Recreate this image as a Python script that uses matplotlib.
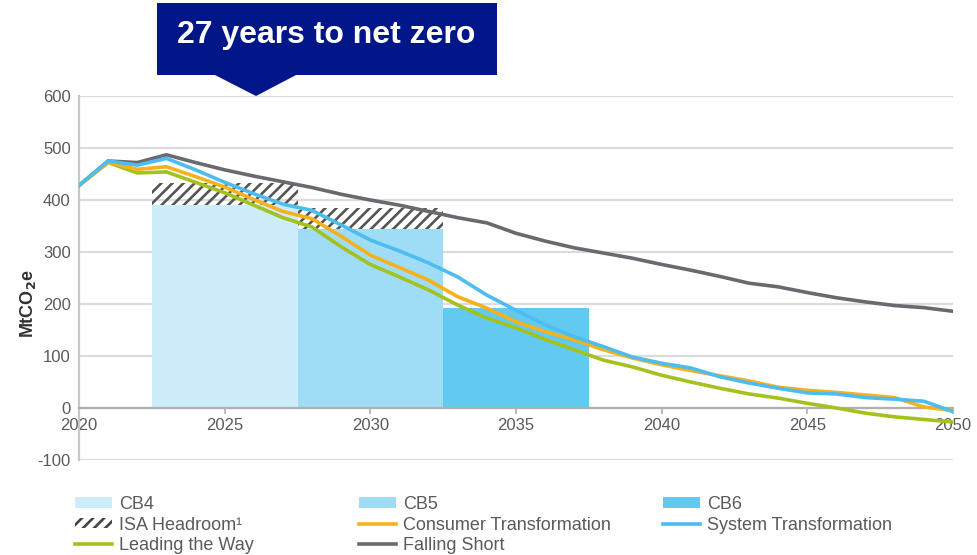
import numpy as np
import matplotlib
matplotlib.use("Agg")
import matplotlib.pyplot as plt
from matplotlib.patches import Patch, Rectangle, Polygon
from matplotlib.lines import Line2D

plt.rcParams['font.family'] = ['Liberation Sans', 'DejaVu Sans']
plt.rcParams['hatch.linewidth'] = 1.9
plt.rcParams['axes.unicode_minus'] = False

# --- data -------------------------------------------------------------
years = list(range(2020, 2051))

falling_short = [428, 475, 472, 487, 472, 458, 446, 435, 424, 411, 400, 390, 378, 366,
                 356, 336, 321, 308, 298, 288, 276, 265, 253, 240, 233, 222, 212, 204,
                 197, 193, 186]
system_transformation = [428, 475, 467, 480, 458, 434, 412, 392, 380, 352, 323, 302, 279,
                         252, 217, 188, 160, 137, 118, 98, 86, 77, 60, 48, 38, 29, 27, 20,
                         17, 13, -7]
consumer_transformation = [428, 472, 459, 464, 445, 425, 401, 378, 364, 330, 294, 270, 246,
                           214, 192, 166, 147, 131, 112, 96, 83, 72, 62, 52, 40, 34, 30, 25,
                           20, 2, -5]
leading_the_way = [428, 472, 452, 454, 434, 414, 390, 366, 348, 310, 276, 252, 227, 198,
                   173, 154, 132, 112, 92, 79, 63, 50, 38, 27, 19, 9, 0, -10, -17, -22, -27]

budget_names = ["CB4", "CB5", "CB6"]
budget_start = [2022.5, 2027.5, 2032.5]
budget_width = 5
budget_level = [390, 345, 193]          # annual average, MtCO2e
isa_headroom = [43, 39, 0]              # hatched part above the budget

y_ticks = [-100, 0, 100, 200, 300, 400, 500, 600]
x_ticks = [2020, 2025, 2030, 2035, 2040, 2045, 2050]

# --- style ------------------------------------------------------------
budget_colors = ["#cdedfa", "#9fdcf6", "#62c9f1"]
c_falling = "#6b6870"
c_system = "#4cbdee"
c_consumer = "#f6b21c"
c_leading = "#a3c21f"
c_text = "#5a5a5a"

W, H = 977, 555
fig = plt.figure(figsize=(W / 100, H / 100), dpi=100)
ax = fig.add_axes([79 / W, 1 - 460 / H, (953 - 79) / W, (460 - 96) / H])

# budgets and headroom
for i in range(len(budget_names)):
    ax.bar(budget_start[i], budget_level[i], width=budget_width, align='edge',
           color=budget_colors[i], linewidth=0, zorder=2)
    if isa_headroom[i] > 0:
        ax.bar(budget_start[i], isa_headroom[i], bottom=budget_level[i], width=budget_width,
               align='edge', facecolor='none', edgecolor='#555555', hatch='///',
               linewidth=0, zorder=2)

# pathways
lw = 2.6
ax.plot(years, falling_short, color=c_falling, lw=lw, zorder=4, solid_joinstyle='round')
ax.plot(years, leading_the_way, color=c_leading, lw=lw, zorder=5, solid_joinstyle='round')
ax.plot(years, consumer_transformation, color=c_consumer, lw=lw, zorder=6, solid_joinstyle='round')
ax.plot(years, system_transformation, color=c_system, lw=lw, zorder=7, solid_joinstyle='round')

# axes
ax.set_xlim(2020, 2050)
ax.set_ylim(-100, 600)
ax.set_yticks(y_ticks)
ax.set_xticks(x_ticks)
ax.grid(axis='y', color='#dcdcdc', lw=1.6, zorder=0)
ax.set_axisbelow(True)
for s in ['top', 'right']:
    ax.spines[s].set_visible(False)
ax.spines['left'].set_color('#c8c8c8')
ax.spines['left'].set_linewidth(1.6)
ax.spines['bottom'].set_position(('data', 0))
ax.spines['bottom'].set_color('#b0b0b0')
ax.spines['bottom'].set_linewidth(1.6)
ax.spines['bottom'].set_zorder(3)
ax.tick_params(axis='y', length=0, pad=6, labelsize=12, labelcolor=c_text)
ax.tick_params(axis='x', length=4, width=1.2, color='#b0b0b0', direction='out',
               pad=3, labelsize=12, labelcolor=c_text)
ax.set_ylabel(r'MtCO$_\mathbf{2}$e', fontsize=13, fontweight='bold', color='#333333')
ax.yaxis.set_label_coords(-0.047, 0.43)

# legend, three columns placed separately
h_cb = [Patch(facecolor=c, edgecolor='none') for c in budget_colors]
h_isa = Patch(facecolor='none', edgecolor='#444444', hatch='///', linewidth=0)
def ln(c):
    return Line2D([], [], color=c, lw=2.6)

columns = [
    ([h_cb[0], h_isa, ln(c_leading)], ["CB4", "ISA Headroom\u00b9", "Leading the Way"], 75),
    ([h_cb[1], ln(c_consumer), ln(c_falling)], ["CB5", "Consumer Transformation", "Falling Short"], 359),
    ([h_cb[2], ln(c_system)], ["CB6", "System Transformation"], 663),
]
for handles, labels, x0 in columns:
    leg = fig.legend(handles, labels, loc='upper left', bbox_to_anchor=(x0 / W, 1 - 496 / H),
                     frameon=False, fontsize=13, handlelength=2.05, handleheight=0.5,
                     handletextpad=0.4, labelspacing=0.2, borderpad=0, borderaxespad=0)
    for t in leg.get_texts():
        t.set_color(c_text)

# header box
navy = "#001689"
fig.add_artist(Rectangle((157 / W, 1 - 75 / H), (497 - 157) / W, (75 - 3) / H,
                         transform=fig.transFigure, facecolor=navy, edgecolor='none'))
fig.add_artist(Polygon([(213 / W, 1 - 74 / H), (298 / W, 1 - 74 / H), (256 / W, 1 - 96 / H)],
                       closed=True, transform=fig.transFigure, facecolor=navy, edgecolor='none'))
fig.text(326 / W, 1 - 35 / H, "27 years to net zero", color='white', fontsize=23,
         fontweight='bold', ha='center', va='center')

fig.savefig("out.png", dpi=100)
